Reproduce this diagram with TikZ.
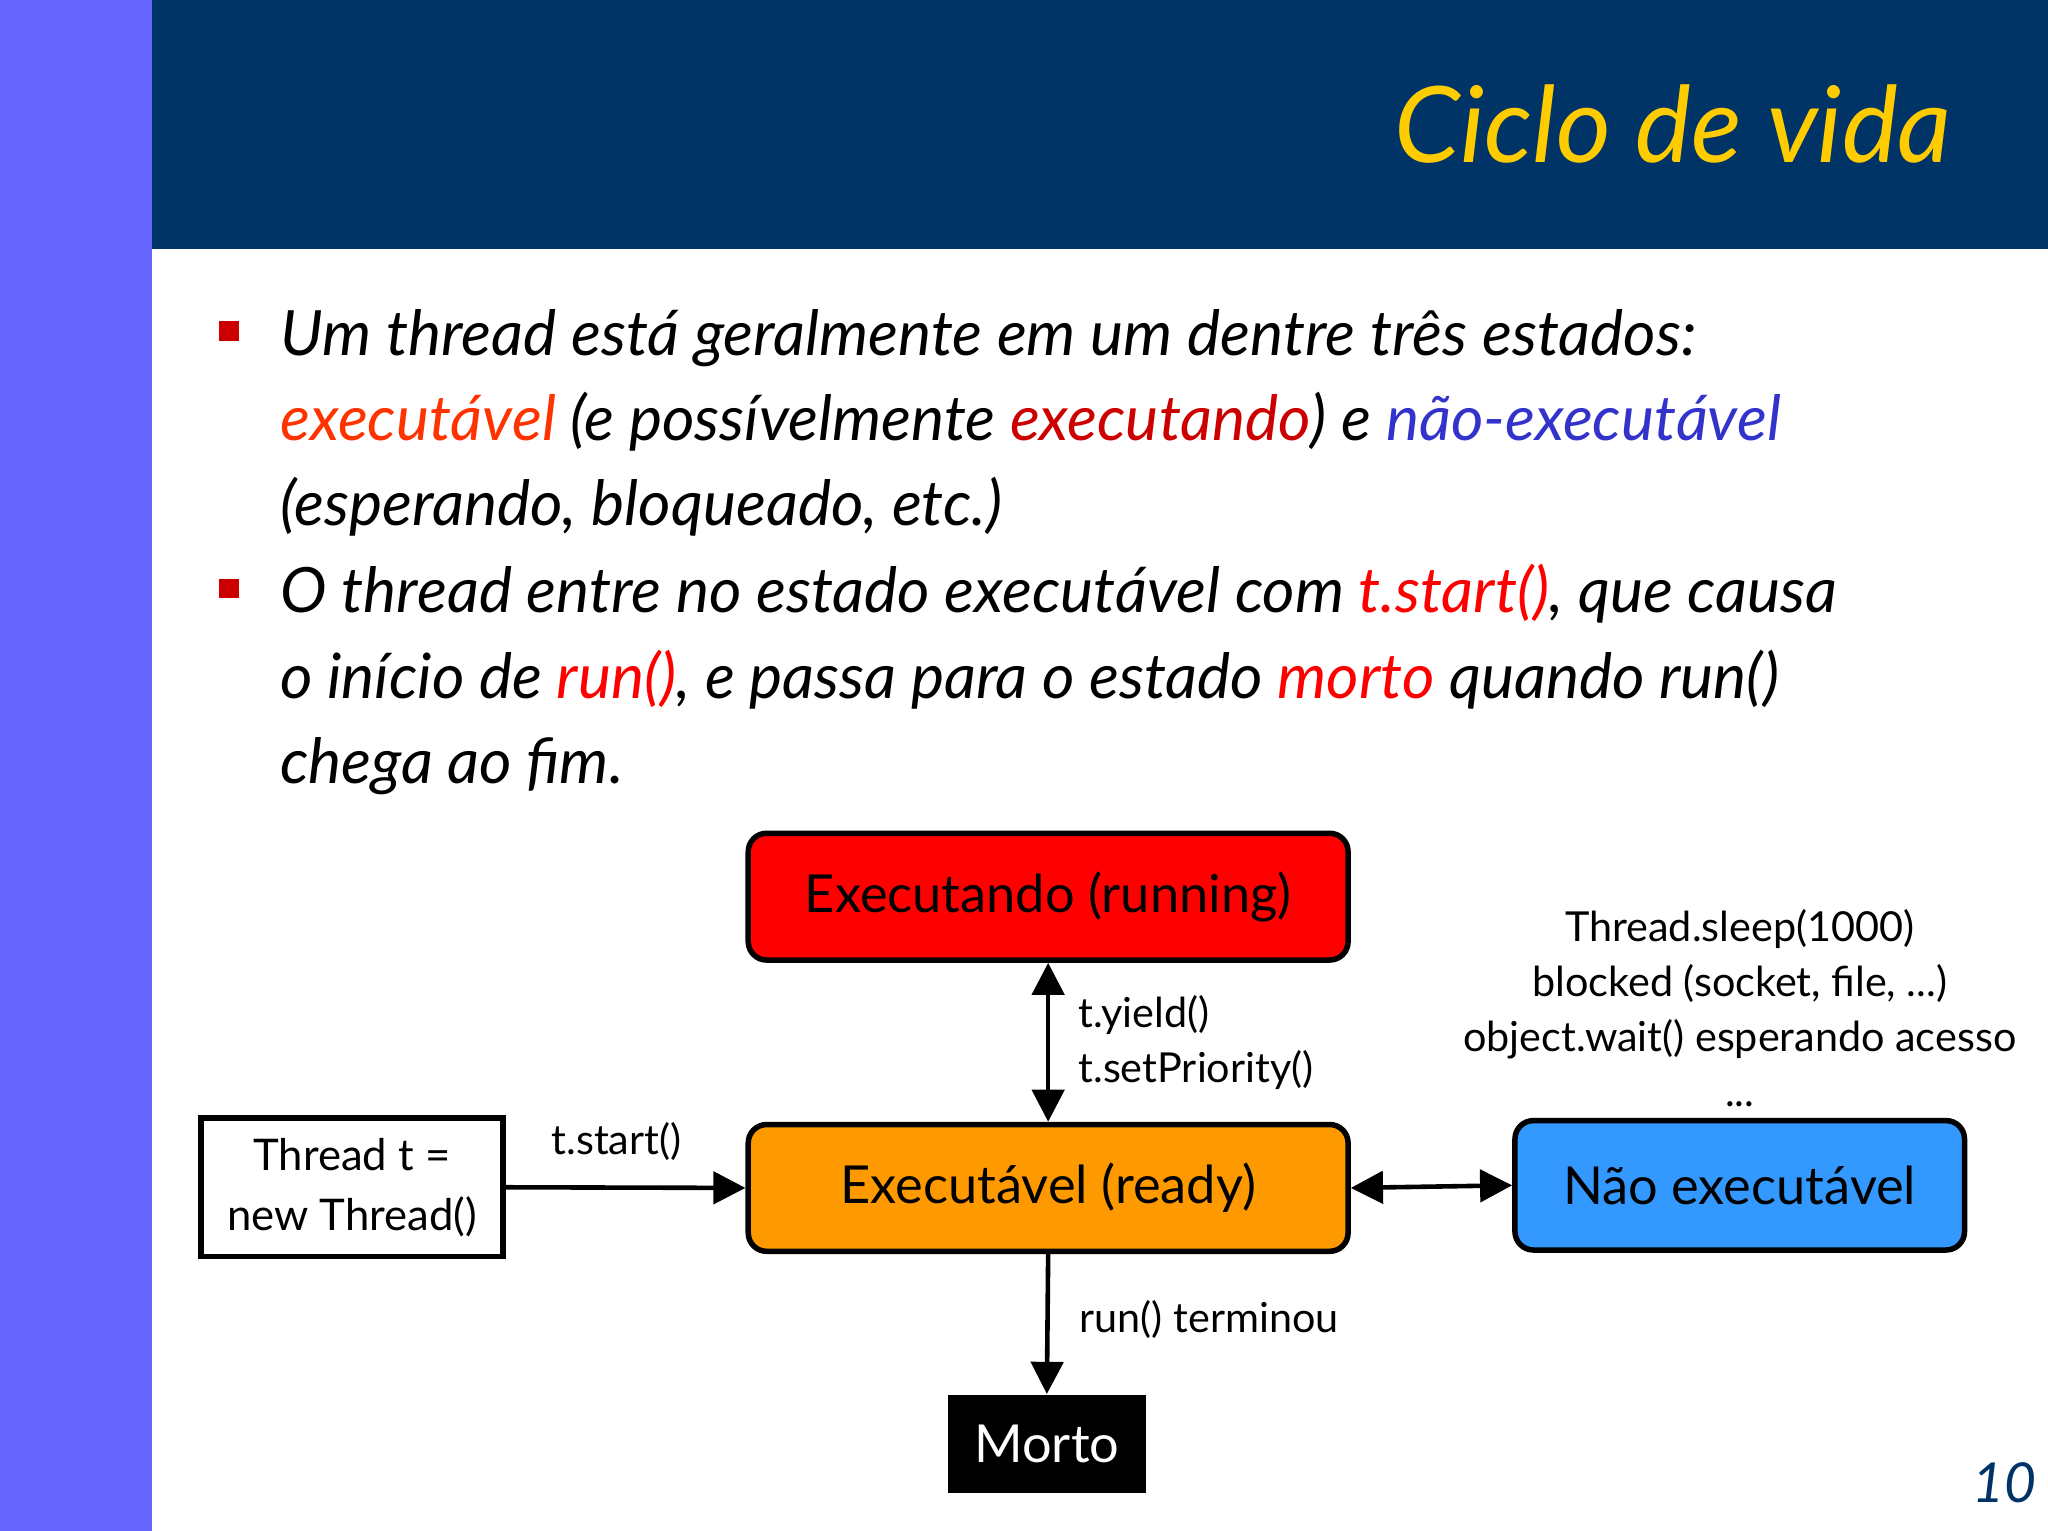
\documentclass[tikz,border=0pt]{standalone}
\usepackage{fontspec}
\setmainfont{Lato}
\usetikzlibrary{arrows.meta}
\definecolor{navy}{HTML}{003366}
\definecolor{lbar}{HTML}{6666FF}
\definecolor{ttl}{HTML}{FFCC00}
\definecolor{exv}{HTML}{FF3300}
\definecolor{exd}{HTML}{CC0000}
\definecolor{nex}{HTML}{3333CC}
\definecolor{rr}{HTML}{FF0000}
\definecolor{orng}{HTML}{FF9900}
\definecolor{blu}{HTML}{3399FF}
\tikzset{
  line/.style={anchor=base west,inner sep=0pt,font=\fontsize{13.6}{16}\selectfont\itshape},
  state/.style={draw=black,line width=1.2pt,rounded corners=4pt,inner sep=0pt,font=\fontsize{11.4}{13}\selectfont},
  lbl/.style={inner sep=0pt,font=\fontsize{9}{11}\selectfont},
  arr/.style={line width=1pt,-{Triangle[length=7pt,width=7pt]}},
  darr/.style={line width=1pt,{Triangle[length=7pt,width=7pt]}-{Triangle[length=7pt,width=7pt]}}
}
\begin{document}
\begin{tikzpicture}[x=0.01cm,y=-0.01cm]
\useasboundingbox (0,0) rectangle (1568,1172);
\fill[white] (0,0) rectangle (1568,1172);
\fill[lbar] (0,0) rectangle (116,1172);
\fill[navy] (116,0) rectangle (1568,191);
\node[anchor=east,inner sep=0pt,text=ttl,font=\fontsize{23}{26}\selectfont\itshape] (title) at (1495,95) {Ciclo de vida};
\fill[exd] (168,246) rectangle (183,261);
\fill[exd] (168,443) rectangle (183,458);
\node[line] (l1) at (214,272) {Um thread está geralmente em um dentre três estados:};
\node[line] (l2) at (214,337) {\textcolor{exv}{executável} (e possívelmente \textcolor{exd}{executando}) e \textcolor{nex}{não-executável}};
\node[line] (l3) at (214,402) {(esperando, bloqueado, etc.)};
\node[line] (l4) at (214,469) {O thread entre no estado executável com \textcolor{rr}{t.start()}, que causa};
\node[line] (l5) at (214,535) {o início de \textcolor{rr}{run()}, e passa para o estado \textcolor{rr}{morto} quando run()};
\node[line] (l6) at (214,600) {chega ao fim.};
\node[state,fill=rr,minimum width=4.59cm,minimum height=0.97cm] (run) at (802.5,686.5) {Executando (running)};
\node[state,fill=orng,minimum width=4.59cm,minimum height=0.97cm] (ready) at (802.5,909.5) {Executável (ready)};
\node[state,fill=blu,minimum width=3.44cm,minimum height=0.99cm] (nao) at (1332,907.5) {Não executável};
\node[draw=black,line width=1.2pt,minimum width=2.31cm,minimum height=1.06cm,inner sep=0pt,align=center,font=\fontsize{9.5}{13}\selectfont] (thr) at (269.5,909) {Thread t =\\new Thread()};
\node[fill=black,text=white,minimum width=1.51cm,minimum height=0.75cm,inner sep=0pt,font=\fontsize{11.4}{13}\selectfont] (morto) at (801.5,1105.5) {Morto};
\draw[darr] (run.south) -- (ready.north);
\draw[arr] (thr.east) -- (ready.west);
\draw[darr] (ready.east) -- (nao.west);
\draw[arr] (ready.south) -- (morto.north);
\node[lbl,anchor=west] (ty) at (825,777) {t.yield()};
\node[lbl,anchor=west] (ts) at (825,819) {t.setPriority()};
\node[lbl] (st) at (472,874) {t.start()};
\node[lbl,anchor=west] (rt) at (826,1010) {run() terminou};
\node[lbl,align=center,font=\fontsize{9}{12}\selectfont] (info) at (1332,772) {Thread.sleep(1000)\\blocked (socket, file, ...)\\object.wait() esperando acesso\\...};
\node[inner sep=0pt,text=navy,font=\fontsize{12}{14}\selectfont\itshape] (pg) at (1535,1135) {10};
\end{tikzpicture}
\end{document}
